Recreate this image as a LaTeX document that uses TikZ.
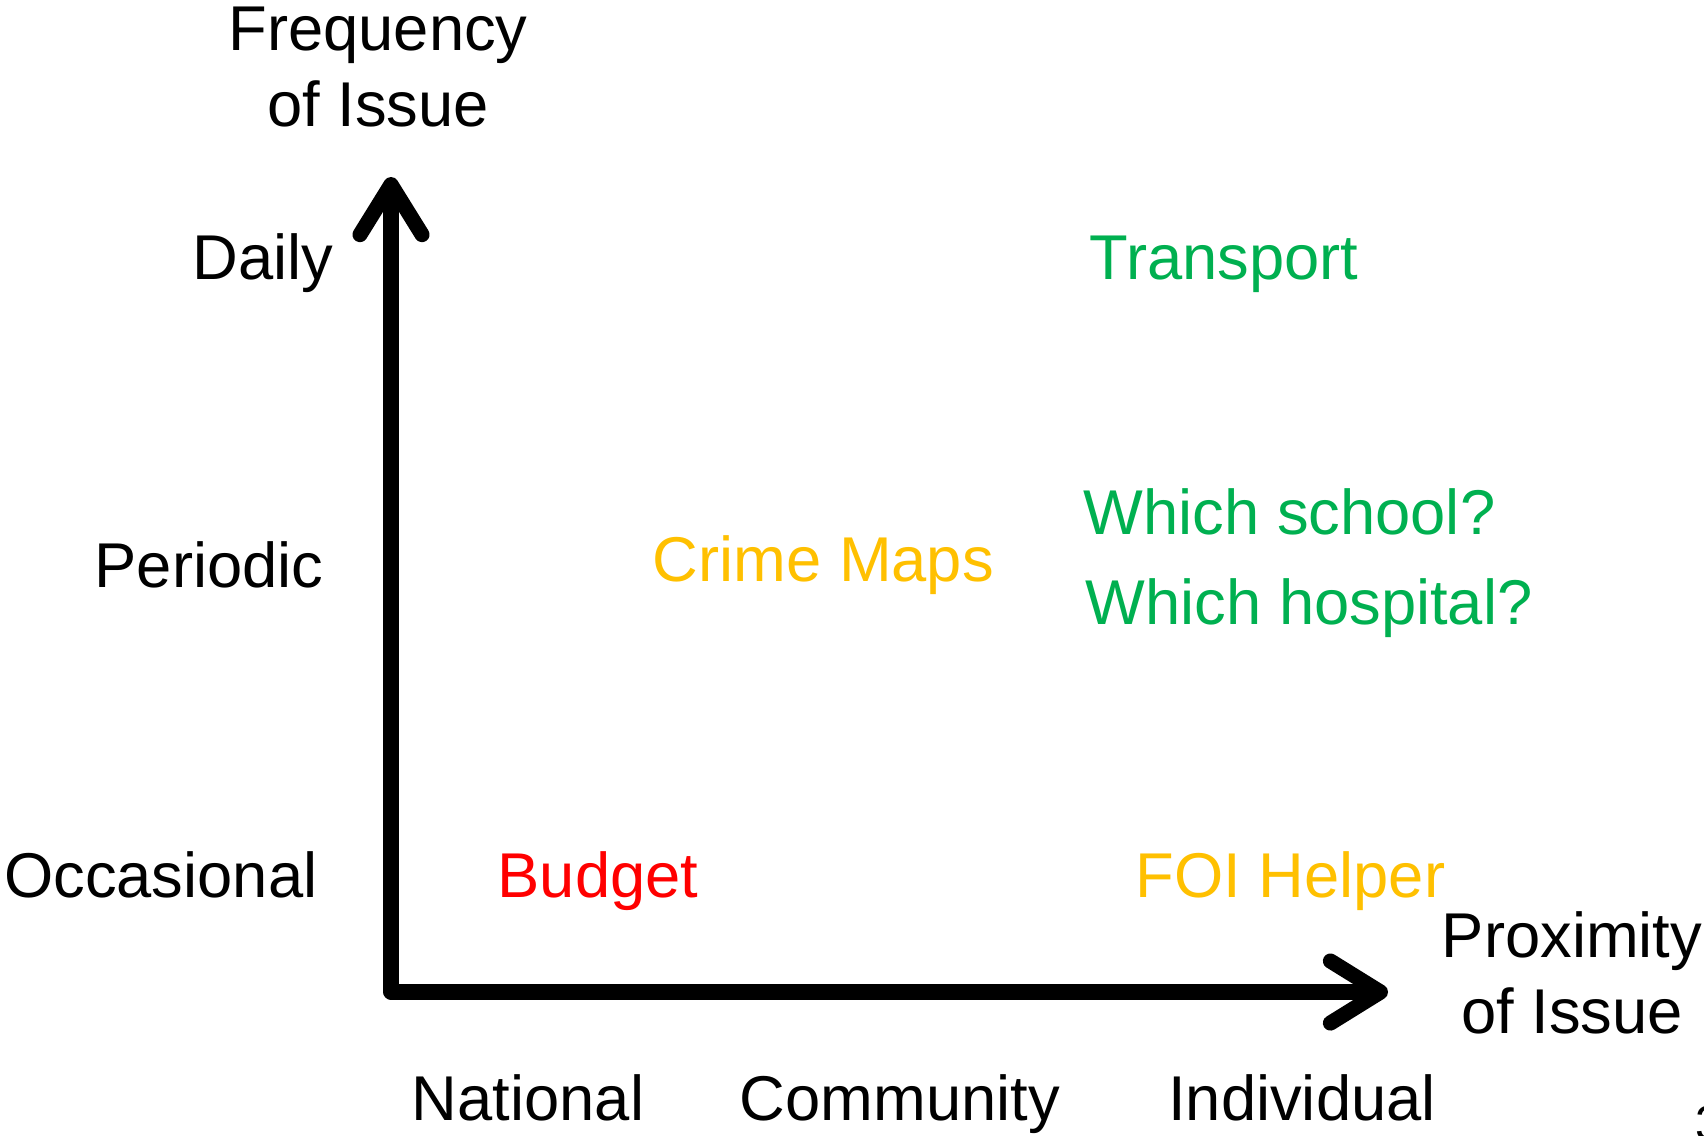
\documentclass[tikz,border=0pt]{standalone}
\usepackage{fontspec}
\setmainfont{Liberation Sans}
\usetikzlibrary{arrows.meta}
\definecolor{issuegreen}{HTML}{00B050}
\definecolor{issuegold}{HTML}{FFC000}
\definecolor{issuered}{HTML}{FF0000}
\tikzset{
  lbl/.style={font=\fontsize{18}{21.6}\selectfont,inner sep=0pt,anchor=base},
  axis/.style={line width=4.3pt,line cap=round,-{Straight Barb[length=0.5cm,width=0.62cm,line cap=round,line join=round]}}
}
\begin{document}
\begin{tikzpicture}[x=0.01cm,y=-0.01cm]
\useasboundingbox(0,0)rectangle(1704,1135);
\coordinate(origin)at(391,992);
\coordinate(ytop)at(391,177);
\coordinate(xend)at(1388,992);
\draw[axis](origin)--(ytop);
\draw[axis](origin)--(xend);
% axis titles
\node[lbl](freq)at(378,50){Frequency};
\node[lbl](freqb)at(378,126){of Issue};
\node[lbl](prox)at(1572,957){Proximity};
\node[lbl](proxb)at(1572,1033){of Issue};
% frequency levels
\node[lbl,anchor=base east](daily)at(334,279){Daily};
\node[lbl,anchor=base east](periodic)at(324,587){Periodic};
\node[lbl,anchor=base east](occasional)at(318,897){Occasional};
% proximity levels
\node[lbl](national)at(528,1120){National};
\node[lbl](community)at(900,1120){Community};
\node[lbl](individual)at(1302,1120){Individual};
% projects
\node[lbl,anchor=base west,text=issuegreen](transport)at(1089,279){Transport};
\node[lbl,anchor=base west,text=issuegreen](school)at(1083,534){Which school?};
\node[lbl,anchor=base west,text=issuegreen](hospital)at(1085,624){Which hospital?};
\node[lbl,anchor=base west,text=issuegold](crime)at(652,581){Crime Maps};
\node[lbl,anchor=base west,text=issuered](budget)at(497,897){Budget};
\node[lbl,anchor=base west,text=issuegold](foi)at(1135,897){FOI Helper};
\node[font=\fontsize{14}{16}\selectfont,inner sep=0pt,anchor=base west](pagenum)at(1695,1140){3};
\end{tikzpicture}
\end{document}
